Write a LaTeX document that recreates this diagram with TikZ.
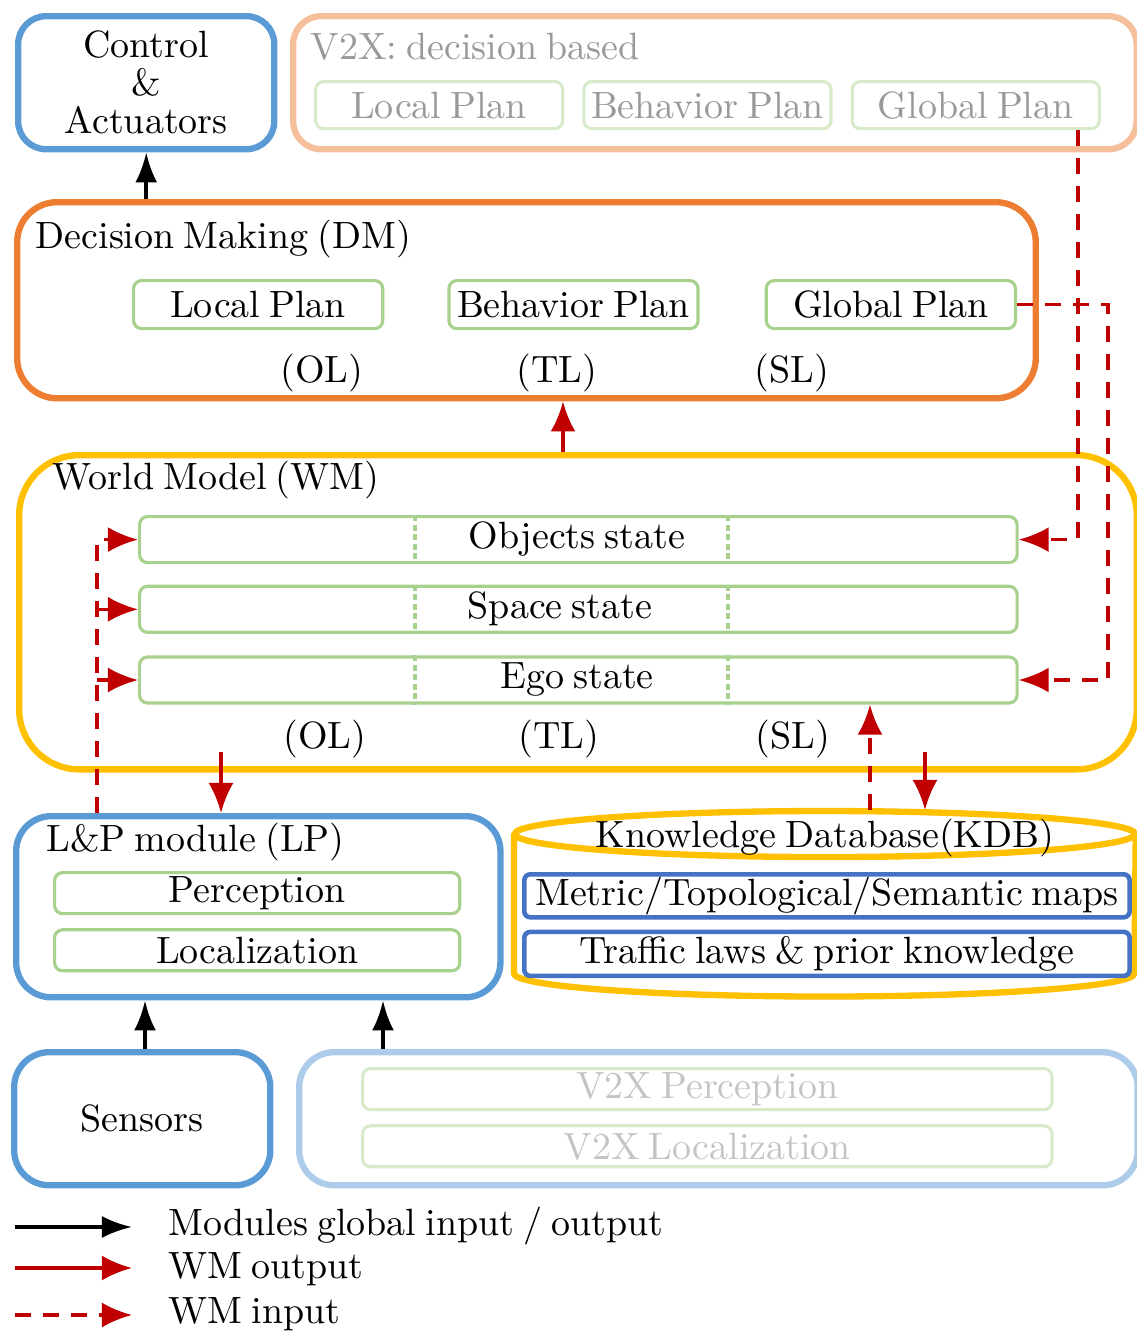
\documentclass[tikz,border=0pt]{standalone}
\usepackage{fontspec}
\usepackage{tikz}
\usetikzlibrary{positioning, fit, arrows.meta}

\definecolor{ctrlblue}{HTML}{5B9BD5}
\definecolor{dmorange}{HTML}{ED7D31}
\definecolor{wmyellow}{HTML}{FFC000}
\definecolor{plangreen}{HTML}{A9D18E}
\definecolor{kdbblue}{HTML}{4472C4}
\definecolor{wmred}{HTML}{C00000}
\definecolor{v2xpeach}{HTML}{F6BF9B}
\definecolor{v2xgreen}{HTML}{D7EACA}
\definecolor{v2xlight}{HTML}{ADCCEA}
\definecolor{v2xtext}{HTML}{999999}
\definecolor{v2xfaint}{HTML}{C4C4C4}

\newcommand{\diagfont}{\fontsize{10.8}{10.8}\selectfont\spaceskip=0.24em plus 0.08em minus 0.04em\relax}

\begin{document}
\begin{tikzpicture}[x=0.01cm, y=-0.01cm, font=\diagfont,
    module/.style={draw, line width=1.8pt, inner sep=0, anchor=north west},
    plan/.style={draw=plangreen, line width=0.9pt, rounded corners=0.08cm, inner sep=0, anchor=north west},
    level/.style={anchor=base, inner sep=0},
    title/.style={anchor=base west, inner sep=0},
    kdbrim/.style={draw=wmyellow, line width=1.8pt},
    globalio/.style={-{Latex[length=0.3cm, width=0.22cm]}, line width=1.1pt},
    wmout/.style={-{Latex[length=0.3cm, width=0.25cm]}, line width=1pt, color=wmred},
    wmin/.style={wmout, dash pattern=on 0.16cm off 0.12cm},
    divider/.style={draw=plangreen, line width=0.9pt, dash pattern=on 0.06cm off 0.035cm}]
    \useasboundingbox (0,0) rectangle (1137,1333);

    % top row: control and V2X decisions
    \node[module, draw=ctrlblue, rounded corners=0.28cm, minimum width=2.56cm, minimum height=1.33cm, align=center] (ctrl) at (15,13) {Control\\\&\\Actuators};
    \node[module, draw=v2xpeach, rounded corners=0.28cm, minimum width=8.43cm, minimum height=1.33cm] (v2xdm) at (290,13) {};
    \node[title, text=v2xtext] (v2xdmtitle) at (310,59) {V2X: decision based};
    \node[plan, draw=v2xgreen, text=v2xtext, minimum width=2.47cm, minimum height=0.47cm] (v2xlocal) at (314,80) {Local Plan};
    \node[plan, draw=v2xgreen, text=v2xtext, minimum width=2.47cm, minimum height=0.47cm, right=0.18cm of v2xlocal] (v2xbehavior) {Behavior Plan};
    \node[plan, draw=v2xgreen, text=v2xtext, minimum width=2.47cm, minimum height=0.47cm, right=0.18cm of v2xbehavior] (v2xglobal) {Global Plan};

    % decision making
    \node[module, draw=dmorange, rounded corners=0.4cm, minimum width=10.18cm, minimum height=1.96cm] (dm) at (14,199) {};
    \node[title] (dmtitle) at (35,248) {Decision Making (DM)};
    \node[plan, minimum width=2.49cm, minimum height=0.48cm] (dmlocal) at (132,279) {Local Plan};
    \node[plan, minimum width=2.49cm, minimum height=0.48cm, right=0.63cm of dmlocal] (dmbehavior) {Behavior Plan};
    \node[plan, minimum width=2.49cm, minimum height=0.48cm, right=0.65cm of dmbehavior] (dmglobal) {Global Plan};
    \node[level] (dmol) at (322,382) {(OL)};
    \node[level] (dmtl) at (557,382) {(TL)};
    \node[level] (dmsl) at (792,382) {(SL)};

    % world model
    \node[module, draw=wmyellow, rounded corners=0.6cm, minimum width=11.17cm, minimum height=3.14cm] (wm) at (16,452) {};
    \node[title] (wmtitle) at (52,489) {World Model (WM)};
    \node[plan, minimum width=8.77cm, minimum height=0.46cm] (objects) at (138,515) {};
    \node[plan, minimum width=8.77cm, minimum height=0.46cm, below=0.205cm of objects] (space) {};
    \node[plan, minimum width=8.77cm, minimum height=0.46cm, below=0.215cm of space] (ego) {};
    \coordinate (cutl) at (415,0);
    \coordinate (cutr) at (728,0);
    \foreach \row in {objects, space, ego}
        \foreach \cut in {cutl, cutr}
            \draw[divider] (\row.north -| \cut) -- (\row.south -| \cut);
    \node[level] (objectstext) at (577,548) {Objects state};
    \node[level] (spacetext) at (560,618) {Space state};
    \node[level] (egotext) at (577,688) {Ego state};
    \node[level] (wmol) at (325,748) {(OL)};
    \node[level] (wmtl) at (559,748) {(TL)};
    \node[level] (wmsl) at (793,748) {(SL)};

    % L&P module
    \node[module, draw=ctrlblue, rounded corners=0.35cm, minimum width=4.84cm, minimum height=1.81cm] (lp) at (13,813) {};
    \node[title] (lptitle) at (46,851) {L\&P module (LP)};
    \node[plan, minimum width=4.05cm, minimum height=0.41cm] (perception) at (53,871) {Perception};
    \node[plan, minimum width=4.05cm, minimum height=0.41cm, below=0.13cm of perception] (localization) {Localization};

    % knowledge database
    \node[inner sep=0, minimum width=6.2cm, minimum height=1.87cm, anchor=north west] (kdb) at (514,810) {};
    \draw[kdbrim] ([yshift=-0.24cm]kdb.north) ellipse [x radius=3.1cm, y radius=0.23cm];
    \draw[kdbrim] ([yshift=-0.24cm]kdb.north west) -- ([yshift=0.25cm]kdb.south west)
        arc[start angle=180, end angle=360, x radius=3.1cm, y radius=0.23cm] -- ([yshift=-0.24cm]kdb.north east);
    \node[level] (kdbtitle) at (825,847) {Knowledge Database(KDB)};
    \node[plan, draw=kdbblue, line width=1.3pt, rounded corners=0.06cm, minimum width=6.05cm, minimum height=0.43cm] (maps) at (522,872) {Metric/Topological/Semantic maps};
    \node[plan, draw=kdbblue, line width=1.3pt, rounded corners=0.06cm, minimum width=6.05cm, minimum height=0.44cm, below=0.1cm of maps] (laws) {Traffic laws \& prior knowledge};

    % bottom row: sensors and V2X
    \node[module, draw=ctrlblue, rounded corners=0.35cm, minimum width=2.56cm, minimum height=1.33cm] (sensors) at (11,1049) {Sensors};
    \node[module, draw=v2xlight, rounded corners=0.35cm, minimum width=8.38cm, minimum height=1.33cm] (v2xlp) at (296,1049) {};
    \node[plan, draw=v2xgreen, text=v2xfaint, minimum width=6.89cm, minimum height=0.41cm] (v2xperception) at (361,1067) {V2X Perception};
    \node[plan, draw=v2xgreen, text=v2xfaint, minimum width=6.89cm, minimum height=0.41cm, below=0.13cm of v2xperception] (v2xlocalization) {V2X Localization};

    % connectors
    \coordinate (wmdm) at (563,0);
    \coordinate (wmlp) at (221,752);
    \coordinate (wmkdb) at (925,752);
    \coordinate (kdbwm) at (870,0);
    \coordinate (lpwm) at (97,0);
    \coordinate (v2xwm) at (1078,0);
    \coordinate (dmwm) at (1108,0);
    \coordinate (sensorslp) at (145,0);
    \coordinate (v2xup) at (383,0);
    \draw[globalio] (ctrl.south |- dm.north) -- (ctrl.south);
    \draw[wmout] (wmdm |- wm.north) -- (wmdm |- dm.south);
    \draw[wmout] (wmlp) -- (wmlp |- lp.north);
    \draw[wmout] (wmkdb) -- (wmkdb |- kdb.north);
    \draw[wmin] (kdbwm |- kdb.north) -- (kdbwm |- ego.south);
    \draw[wmin] (lpwm |- lp.north) |- (objects.west);
    \draw[wmin] (lpwm |- space.west) -- (space.west);
    \draw[wmin] (lpwm |- ego.west) -- (ego.west);
    \draw[wmin] (v2xwm |- v2xglobal.south) |- (objects.east);
    \draw[wmin] (dmglobal.east) -| (dmwm |- ego.east) -- (ego.east);
    \draw[globalio] (sensorslp |- sensors.north) -- (sensorslp |- lp.south);
    \draw[globalio] (v2xup |- v2xlp.north) -- (v2xup |- lp.south);

    % legend
    \coordinate (keyio) at (15,1227);
    \coordinate (keyout) at (15,1268);
    \coordinate (keyin) at (15,1315);
    \coordinate (keyend) at (132,0);
    \node[title] (keyiotext) at (168,1235) {Modules global input / output};
    \node[title] (keyouttext) at (168,1278) {WM output};
    \node[title] (keyintext) at (168,1323) {WM input};
    \draw[globalio] (keyio) -- (keyio -| keyend);
    \draw[wmout] (keyout) -- (keyout -| keyend);
    \draw[wmin] (keyin) -- (keyin -| keyend);
\end{tikzpicture}
\end{document}
